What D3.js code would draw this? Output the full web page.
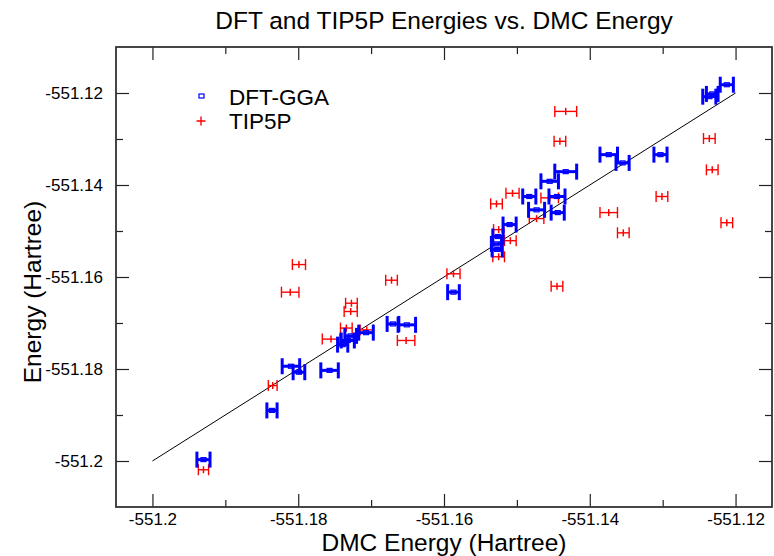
<!DOCTYPE html>
<html>
<head>
<meta charset="utf-8">
<script src="https://cdn.jsdelivr.net/npm/d3@7"></script>
<style>
  html, body { margin: 0; padding: 0; background: #fff; }
  svg { display: block; font-family: "Liberation Sans", Arial, Helvetica, sans-serif; }
</style>
</head>
<body>
<svg id="chart" width="774" height="556"></svg>
<script>
// DFT-GGA energies against DMC energies (Hartree), with DMC error bars
const dftDmc  = [-551.1930, -551.1836, -551.1810, -551.1799, -551.1757, -551.1739, -551.1732, -551.1728, -551.1707,
                 -551.1670, -551.1651, -551.1587, -551.1528, -551.1526, -551.1527, -551.1510, -551.1483, -551.1473,
                 -551.1445, -551.1444, -551.1455, -551.1433, -551.1374, -551.1355, -551.1303, -551.1236, -551.1232,
                 -551.1212];
const dftE    = [-551.1997, -551.1890, -551.1794, -551.1807, -551.1803, -551.1747, -551.1738, -551.1728, -551.1721,
                 -551.1702, -551.1704, -551.1633, -551.1528, -551.1512, -551.1540, -551.1486, -551.1425, -551.1454,
                 -551.1425, -551.1460, -551.1392, -551.1371, -551.1334, -551.1352, -551.1334, -551.1208, -551.1202,
                 -551.1182];
const dftErr  = [0.0009, 0.0007, 0.0012, 0.0008, 0.0012, 0.0007, 0.0009, 0.0008, 0.0010,
                 0.0008, 0.0012, 0.0008, 0.0007, 0.0007, 0.0007, 0.0009, 0.0009, 0.0011,
                 0.0011, 0.0009, 0.0012, 0.0015, 0.0012, 0.0009, 0.0009, 0.0009, 0.0008,
                 0.0009];

// TIP5P energies against DMC energies (Hartree)
const tipDmc  = [-551.1930, -551.1835, -551.1799, -551.1811, -551.1727, -551.1728, -551.1755, -551.1734, -551.1706,
                 -551.1672, -551.1652, -551.1587, -551.1528, -551.1525, -551.1525, -551.1509, -551.1506, -551.1473,
                 -551.1455, -551.1445, -551.1433, -551.1441, -551.1374, -551.1354, -551.1301, -551.1236, -551.1232,
                 -551.1212];
const tipE    = [-551.2019, -551.1836, -551.1573, -551.1633, -551.1657, -551.1675, -551.1735, -551.1711, -551.1715,
                 -551.1607, -551.1738, -551.1593, -551.1441, -551.1497, -551.1556, -551.1521, -551.1418, -551.1473,
                 -551.1428, -551.1620, -551.1240, -551.1305, -551.1460, -551.1504, -551.1425, -551.1299, -551.1367,
                 -551.1482];
const tipErr  = [0.0007, 0.0006, 0.0009, 0.0012, 0.0008, 0.0009, 0.0012, 0.0008, 0.0009,
                 0.0008, 0.0012, 0.0009, 0.0008, 0.0007, 0.0008, 0.0008, 0.0009, 0.0010,
                 0.0012, 0.0008, 0.0015, 0.0008, 0.0012, 0.0008, 0.0008, 0.0008, 0.0008,
                 0.0008];

// Reference line y = x
const diagonal = [-551.2, -551.12];

// Axes
const xDomain = [-551.205, -551.115];
const yDomain = [-551.21, -551.11];
const xMajor = [-551.2, -551.18, -551.16, -551.14, -551.12];
const xMajorLabels = ["-551.2", "-551.18", "-551.16", "-551.14", "-551.12"];
const xMinor = [-551.19, -551.17, -551.15, -551.13];
const yMajor = [-551.2, -551.18, -551.16, -551.14, -551.12];
const yMajorLabels = ["-551.2", "-551.18", "-551.16", "-551.14", "-551.12"];
const yMinor = [-551.19, -551.17, -551.15, -551.13];

const seriesNames = ["DFT-GGA", "TIP5P"];
const seriesColors = ["#0000ff", "#ff0000"];

const svg = d3.select("#chart");
const margin = { left: 116, right: 2, top: 47, bottom: 49 };
const W = 774, H = 556;
const x = d3.scaleLinear().domain(xDomain).range([margin.left, W - margin.right]);
const y = d3.scaleLinear().domain(yDomain).range([H - margin.bottom, margin.top]);

const majorLen = 13, minorLen = 7;

function styleAxis(g) {
  g.selectAll(".domain").remove();
  g.selectAll(".tick line").attr("stroke", "#222").attr("stroke-width", 1.2);
}

// bottom axis
svg.append("g").attr("transform", `translate(0,${y.range()[0]})`)
  .call(d3.axisBottom(x).tickValues(xMajor).tickSize(-majorLen).tickPadding(6)
        .tickFormat((d, i) => xMajorLabels[i]))
  .call(styleAxis)
  .call(g => g.selectAll("text").attr("font-size", 17).attr("fill", "#000")
        .attr("font-family", "Liberation Sans, Arial, sans-serif"));
svg.append("g").attr("transform", `translate(0,${y.range()[0]})`)
  .call(d3.axisBottom(x).tickValues(xMinor).tickSize(-minorLen).tickFormat(""))
  .call(styleAxis);
// top axis
svg.append("g").attr("transform", `translate(0,${y.range()[1]})`)
  .call(d3.axisTop(x).tickValues(xMajor).tickSize(-majorLen).tickFormat(""))
  .call(styleAxis);
svg.append("g").attr("transform", `translate(0,${y.range()[1]})`)
  .call(d3.axisTop(x).tickValues(xMinor).tickSize(-minorLen).tickFormat(""))
  .call(styleAxis);
// left axis
svg.append("g").attr("transform", `translate(${x.range()[0]},0)`)
  .call(d3.axisLeft(y).tickValues(yMajor).tickSize(-majorLen).tickPadding(13)
        .tickFormat((d, i) => yMajorLabels[i]))
  .call(styleAxis)
  .call(g => g.selectAll("text").attr("font-size", 17).attr("fill", "#000")
        .attr("font-family", "Liberation Sans, Arial, sans-serif"));
svg.append("g").attr("transform", `translate(${x.range()[0]},0)`)
  .call(d3.axisLeft(y).tickValues(yMinor).tickSize(-minorLen).tickFormat(""))
  .call(styleAxis);
// right axis
svg.append("g").attr("transform", `translate(${x.range()[1]},0)`)
  .call(d3.axisRight(y).tickValues(yMajor).tickSize(-majorLen).tickFormat(""))
  .call(styleAxis);
svg.append("g").attr("transform", `translate(${x.range()[1]},0)`)
  .call(d3.axisRight(y).tickValues(yMinor).tickSize(-minorLen).tickFormat(""))
  .call(styleAxis);

// frame
svg.append("rect")
  .attr("x", x.range()[0]).attr("y", y.range()[1])
  .attr("width", x.range()[1] - x.range()[0]).attr("height", y.range()[0] - y.range()[1])
  .attr("fill", "none").attr("stroke", "#333").attr("stroke-width", 1.8);

// diagonal reference line
svg.append("line")
  .attr("x1", x(diagonal[0])).attr("y1", y(diagonal[0]))
  .attr("x2", x(diagonal[1])).attr("y2", y(diagonal[1]))
  .attr("stroke", "#000").attr("stroke-width", 1);

// error bar series
function drawSeries(xs, ys, errs, color, opts) {
  const g = svg.append("g").attr("stroke", color).attr("fill", "none")
    .attr("stroke-width", opts.width);
  xs.forEach((xv, i) => {
    const cy = y(ys[i]);
    const x0 = x(xv - errs[i]), x1 = x(xv + errs[i]), cx = x(xv);
    g.append("line").attr("x1", x0).attr("x2", x1).attr("y1", cy).attr("y2", cy);
    g.append("line").attr("x1", x0).attr("x2", x0).attr("y1", cy - opts.cap).attr("y2", cy + opts.cap);
    g.append("line").attr("x1", x1).attr("x2", x1).attr("y1", cy - opts.cap).attr("y2", cy + opts.cap);
    opts.marker(g, cx, cy);
  });
}

const squareMarker = (g, cx, cy) => g.append("rect")
  .attr("x", cx - 2.5).attr("y", cy - 2).attr("width", 5).attr("height", 4)
  .attr("stroke-width", 1.2);
const plusMarker = (g, cx, cy) => g.append("line")
  .attr("x1", cx).attr("x2", cx).attr("y1", cy - 3.5).attr("y2", cy + 3.5)
  .attr("stroke-width", 1.5);

drawSeries(tipDmc, tipE, tipErr, seriesColors[1], { width: 1.4, cap: 5.5, marker: plusMarker });
drawSeries(dftDmc, dftE, dftErr, seriesColors[0], { width: 3, cap: 8, marker: squareMarker });

// legend
const legend = svg.append("g");
legend.append("rect").attr("x", 199).attr("y", 94).attr("width", 5).attr("height", 4)
  .attr("fill", "none").attr("stroke", seriesColors[0]).attr("stroke-width", 1.2);
legend.append("path").attr("d", "M196.5,121H205.5M201,116.5V125.5")
  .attr("stroke", seriesColors[1]).attr("stroke-width", 1.4);
legend.selectAll("text.leg").data(seriesNames).join("text")
  .attr("class", "leg")
  .attr("x", 229).attr("y", (d, i) => 105 + i * 24)
  .attr("font-size", 22.5).attr("fill", "#000")
  .text(d => d);

// titles
svg.append("text").attr("x", (x.range()[0] + x.range()[1]) / 2).attr("y", 29)
  .attr("text-anchor", "middle").attr("font-size", 24.5).attr("fill", "#000")
  .text("DFT and TIP5P Energies vs. DMC Energy");
svg.append("text").attr("x", (x.range()[0] + x.range()[1]) / 2).attr("y", 551)
  .attr("text-anchor", "middle").attr("font-size", 24.5).attr("fill", "#000")
  .text("DMC Energy (Hartree)");
svg.append("text")
  .attr("transform", `translate(41,292) rotate(-90)`)
  .attr("text-anchor", "middle").attr("font-size", 24.5).attr("fill", "#000")
  .text("Energy (Hartree)");
</script>
</body>
</html>
